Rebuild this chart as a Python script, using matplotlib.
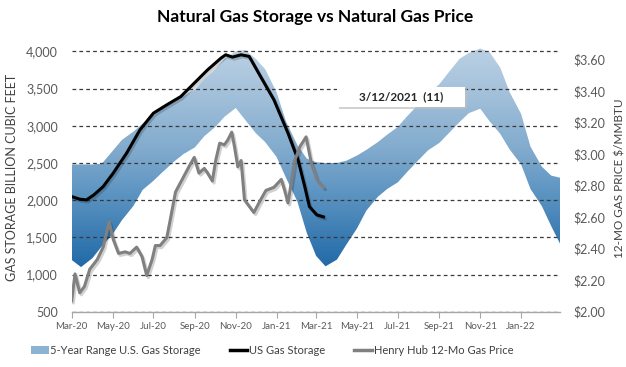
import numpy as np
import matplotlib
matplotlib.use('Agg')
import matplotlib.pyplot as plt
import matplotlib.dates as mdates
import matplotlib.patheffects as pe
from matplotlib.colors import LinearSegmentedColormap
from matplotlib.patches import Patch, Rectangle, PathPatch
from matplotlib.lines import Line2D
from matplotlib.ticker import FuncFormatter

plt.rcParams['font.family'] = ['Lato', 'DejaVu Sans']

# 5-year range band, read every half month (1st and 15th)
band_dates = np.array([f'{y}-{m:02d}-{d:02d}'
                       for y, m in [(2020, k) for k in range(3, 13)] + [(2021, k) for k in range(1, 13)] + [(2022, 1), (2022, 2)]
                       for d in (1, 15)] + ['2022-03-01'], dtype='datetime64[D]')
band_upper = [2480, 2480, 2480, 2490, 2660, 2810, 2920, 3030, 3140, 3240, 3320, 3400,
              3490, 3630, 3760, 3900, 4000, 4020, 3900, 3760, 3450, 3060, 2740, 2560,
              2510, 2500, 2500, 2530, 2600, 2676, 2780, 2880, 2986, 3130, 3290, 3430,
              3560, 3720, 3900, 3980, 4040, 3990, 3780, 3450, 3160, 2720, 2450, 2330, 2300]
band_lower = [1196, 1100, 1220, 1380, 1540, 1730, 1920, 2138, 2260, 2380, 2520, 2620,
              2710, 2860, 2980, 3120, 3240, 3080, 2900, 2780, 2580, 2300, 1980, 1560,
              1250, 1110, 1200, 1400, 1620, 1860, 2044, 2150, 2240, 2380, 2540, 2670,
              2770, 2900, 3050, 3170, 3230, 3060, 2890, 2680, 2480, 2150, 1920, 1650, 1400]

# US gas storage (bcf)
stor_dates = np.array(['2020-03-01', '2020-03-13', '2020-03-23', '2020-04-03', '2020-04-17',
                       '2020-05-02', '2020-05-22', '2020-06-11', '2020-07-01', '2020-07-21',
                       '2020-08-11', '2020-08-31', '2020-09-20', '2020-10-10', '2020-10-17',
                       '2020-10-27', '2020-11-09', '2020-11-21', '2020-12-08', '2020-12-28',
                       '2021-01-18', '2021-02-02', '2021-02-12', '2021-02-19', '2021-03-02',
                       '2021-03-12'], dtype='datetime64[D]')
stor_vals = [2048, 2013, 2003, 2070, 2182, 2363, 2632, 2946, 3170, 3282, 3394, 3574, 3753,
             3911, 3955, 3924, 3955, 3933, 3663, 3349, 2901, 2542, 2182, 1913, 1802, 1775]

# Henry Hub 12-month strip ($/MMBtu)
price_dates = np.array(['2020-03-01', '2020-03-06', '2020-03-13', '2020-03-20', '2020-03-28',
                        '2020-04-08', '2020-04-17', '2020-04-26', '2020-05-02', '2020-05-10',
                        '2020-05-20', '2020-05-27', '2020-06-06', '2020-06-14', '2020-06-21',
                        '2020-06-29', '2020-07-04', '2020-07-11', '2020-07-21', '2020-07-26',
                        '2020-08-03', '2020-08-13', '2020-08-23', '2020-08-31', '2020-09-07',
                        '2020-09-15', '2020-09-20', '2020-09-27', '2020-10-02', '2020-10-08',
                        '2020-10-15', '2020-10-20', '2020-10-26', '2020-10-30', '2020-11-04',
                        '2020-11-09', '2020-11-14', '2020-11-21', '2020-11-28', '2020-12-08',
                        '2020-12-16', '2020-12-28', '2021-01-08', '2021-01-13', '2021-01-18',
                        '2021-01-28', '2021-02-05', '2021-02-14', '2021-02-22', '2021-03-02',
                        '2021-03-12'], dtype='datetime64[D]')
price_vals = [2.07, 2.24, 2.12, 2.16, 2.27, 2.33, 2.41, 2.57, 2.46, 2.37, 2.38, 2.37, 2.41,
              2.35, 2.23, 2.33, 2.42, 2.42, 2.47, 2.58, 2.76, 2.84, 2.92, 2.98, 2.88, 2.91,
              2.88, 2.83, 2.96, 3.07, 3.06, 3.09, 3.14, 3.05, 2.92, 2.96, 2.71, 2.67, 2.63,
              2.71, 2.77, 2.79, 2.84, 2.77, 2.69, 2.96, 3.05, 3.11, 2.94, 2.84, 2.79]

left_ticks = [500, 1000, 1500, 2000, 2500, 3000, 3500, 4000]
right_ticks = [2.0, 2.2, 2.4, 2.6, 2.8, 3.0, 3.2, 3.4, 3.6]

fig = plt.figure(figsize=(6.26, 3.67), dpi=100)
ax = fig.add_axes([0.1145, 0.1507, 0.780, 0.7294])
ax2 = ax.twinx()

xmin = np.datetime64('2020-03-01')
xmax = np.datetime64('2022-02-28')

# band with vertical gradient
poly = ax.fill_between(band_dates, band_lower, band_upper, facecolor='none', edgecolor='none')
cmap = LinearSegmentedColormap.from_list('band', [(0.0, '#10589a'), (0.15, '#1d67a6'),
                                                  (0.45, '#5e95c2'), (0.6, '#80aacd'),
                                                  (0.85, '#a8c4dc'), (1.0, '#bcd2e4')])
grad = np.linspace(0, 1, 256).reshape(-1, 1)
x0, x1 = mdates.date2num(xmin), mdates.date2num(np.datetime64('2022-03-01'))
img = ax.imshow(grad, extent=[x0, x1, 500, 4100], origin='lower', aspect='auto',
                cmap=cmap, zorder=0.5, interpolation='bilinear')
clip = PathPatch(poly.get_paths()[0], transform=ax.transData, facecolor='none', edgecolor='none')
ax.add_patch(clip)
img.set_clip_path(clip)

shadow = [pe.SimpleLineShadow(offset=(1.2, -1.5), shadow_color='k', alpha=0.18), pe.Normal()]
ax.plot(stor_dates, stor_vals, color='black', lw=2.2, zorder=3, path_effects=shadow)
ax2.plot(price_dates, price_vals, color='#808080', lw=2.2, zorder=3, path_effects=shadow)

ax.set_xlim(xmin, xmax)
ax.set_ylim(500, 4100)
ax2.set_ylim(2.0, 3.7)

ax.set_yticks(left_ticks)
ax.yaxis.set_major_formatter(FuncFormatter(lambda v, p: f'{int(v):,}'))
ax2.set_yticks(right_ticks)
ax2.yaxis.set_major_formatter(FuncFormatter(lambda v, p: f'${v:.2f}'))

ax.xaxis.set_major_locator(mdates.MonthLocator(bymonth=[1, 3, 5, 7, 9, 11]))
ax.xaxis.set_major_formatter(mdates.DateFormatter('%b-%y'))

ax.grid(axis='y', color='#3a3a3a', lw=0.9, ls=(0, (3, 2.5)))
ax.grid(axis='x', visible=False)
ax.yaxis.set_zorder(2.5)
ax.xaxis.set_zorder(2.5)

for a in (ax, ax2):
    for s in ('left', 'right', 'top', 'bottom'):
        a.spines[s].set_visible(False)
ax.spines['bottom'].set_visible(True)
ax.spines['bottom'].set_color('#a6a6a6')
ax.spines['bottom'].set_linewidth(1.0)

ax.tick_params(axis='x', colors='#a6a6a6', labelcolor='#595959', labelsize=7, length=4, width=0.8)
ax.tick_params(axis='y', length=0, labelsize=9, labelcolor='#595959', pad=10)
ax2.tick_params(axis='y', length=0, labelsize=9, labelcolor='#595959', pad=10)

ax.set_ylabel('GAS STORAGE BILLION CUBIC FEET', fontsize=9, color='#404040', labelpad=6)
ax2.set_ylabel('12-MO GAS PRICE $/MMBTU', fontsize=8.5, color='#404040', labelpad=6)

fig.text(0.503, 0.953, 'Natural Gas Storage vs Natural Gas Price', ha='center', va='center',
         fontsize=12.5, fontweight='bold', color='black')

# date callout box
ax2.add_patch(Rectangle((0.547, 0.757), 0.262, 0.075, transform=ax2.transAxes,
                        facecolor='#bfbfbf', edgecolor='none', alpha=0.7, zorder=5))
ax2.add_patch(Rectangle((0.543, 0.765), 0.262, 0.075, transform=ax2.transAxes,
                        facecolor='white', edgecolor='none', zorder=6))
ax2.text(0.674, 0.802, '3/12/2021  (11)', transform=ax2.transAxes, ha='center', va='center',
         fontsize=8.5, fontweight='bold', color='#262626', zorder=7)

handles = [Patch(facecolor='#8db3d3', edgecolor='none'),
           Line2D([], [], color='black', lw=2.5),
           Line2D([], [], color='#808080', lw=2.5)]
labels = ['5-Year Range U.S. Gas Storage', 'US Gas Storage', 'Henry Hub 12-Mo Gas Price']
fig.legend(handles, labels, loc='center', bbox_to_anchor=(272 / 626, 1 - 350 / 367), ncol=3,
           frameon=False, fontsize=8, handlelength=1.6, handletextpad=0.15, columnspacing=2.6,
           labelcolor='#404040')

fig.savefig('out.png', dpi=100)
